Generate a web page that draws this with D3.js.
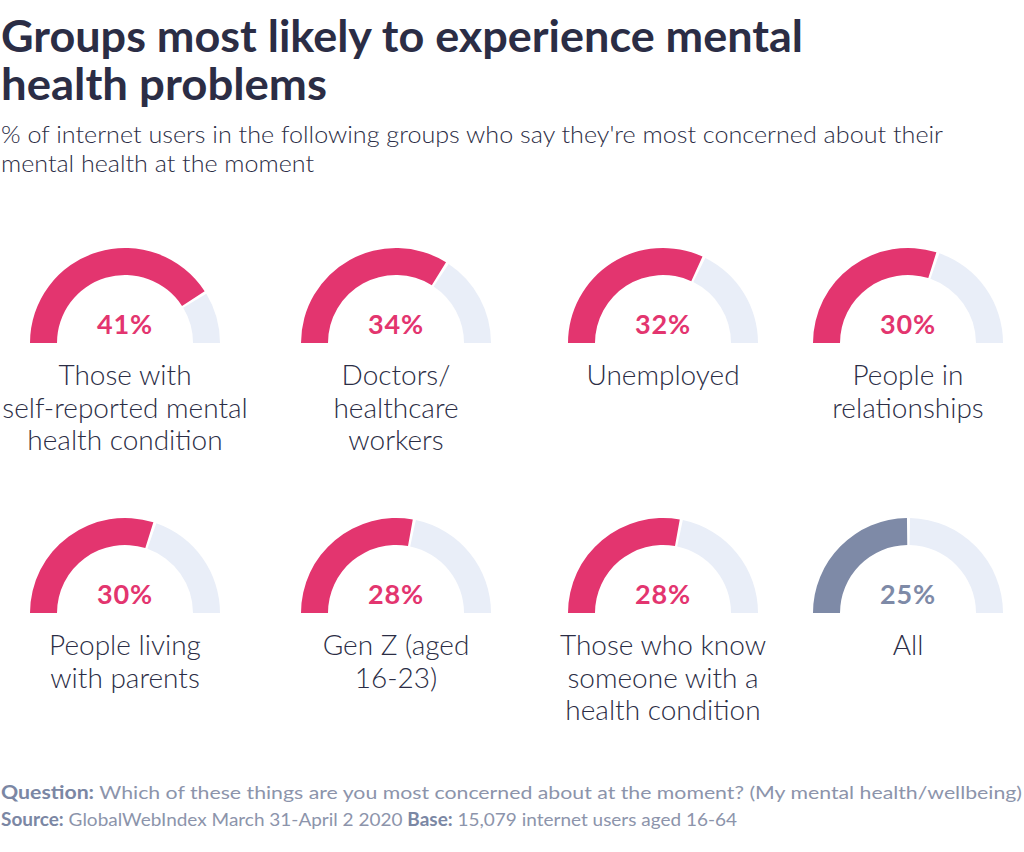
<!DOCTYPE html>
<html>
<head>
<meta charset="utf-8">
<script src="https://cdn.jsdelivr.net/npm/d3@7"></script>
<style>
  html, body { margin: 0; padding: 0; background: #ffffff; }
  svg { display: block; }
  text { font-family: Lato, "Noto Sans", sans-serif; }
</style>
</head>
<body>
<svg id="chart" width="1024" height="852"></svg>
<script>
// ---- data ----
const titleLines = ["Groups most likely to experience mental", "health problems"];
const subtitleLines = ["% of internet users in the following groups who say they're most concerned about their",
                       "mental health at the moment"];
const groupLabels = [
  ["Those with", "self-reported mental", "health condition"],
  ["Doctors/", "healthcare", "workers"],
  ["Unemployed"],
  ["People in", "relationships"],
  ["People living", "with parents"],
  ["Gen Z (aged", "16-23)"],
  ["Those who know", "someone with a", "health condition"],
  ["All"]
];
const values = [41, 34, 32, 30, 30, 28, 28, 25];
const kinds = ["group", "group", "group", "group", "group", "group", "group", "total"];
const gaugeMax = 50;
const footerQuestion = ["Question:", " Which of these things are you most concerned about at the moment? (My mental health/wellbeing)"];
const footerSource = ["Source:", " GlobalWebIndex March 31-April 2 2020 ", "Base:", " 15,079 internet users aged 16-64"];

// ---- style ----
const colors = { group: "#E3356F", total: "#7E8AA7", track: "#E9EEF8" };
const textDark = "#2B2D45";

const svg = d3.select("#chart");

// Title
const titleLens = [802, 326];
titleLines.forEach((t, i) => {
  svg.append("text")
    .attr("x", 1).attr("y", 52 + i * 48)
    .attr("font-size", 43).attr("font-weight", 700)
    .attr("fill", textDark)
    .attr("textLength", titleLens[i]).attr("lengthAdjust", "spacingAndGlyphs")
    .text(t);
});

// Subtitle
const subLens = [942, 313];
subtitleLines.forEach((t, i) => {
  svg.append("text")
    .attr("x", 1).attr("y", 143 + i * 29)
    .attr("font-size", 24).attr("font-weight", 300)
    .attr("fill", textDark)
    .attr("textLength", subLens[i]).attr("lengthAdjust", "spacingAndGlyphs")
    .text(t);
});

// Gauges
const col = d3.scaleLinear().domain([0, 1, 2, 3]).range([125, 396, 663, 908]);
const row = d3.scalePoint().domain([0, 1]).range([343, 613]);
const angle = d3.scaleLinear().domain([0, gaugeMax]).range([-Math.PI / 2, Math.PI / 2]);
const outerR = 95, innerR = 68, gap = 0.022;
const arc = d3.arc().innerRadius(innerR).outerRadius(outerR);

const g = svg.selectAll("g.gauge")
  .data(values.map((v, i) => ({ v, i, kind: kinds[i], lines: groupLabels[i] })))
  .join("g")
  .attr("class", "gauge")
  .attr("transform", d => `translate(${col(d.i % 4)},${row(Math.floor(d.i / 4))})`);

g.append("path")
  .attr("fill", colors.track)
  .attr("d", d => arc({ startAngle: angle(d.v) + gap, endAngle: angle(gaugeMax) }));

g.append("path")
  .attr("fill", d => colors[d.kind])
  .attr("d", d => arc({ startAngle: angle(0), endAngle: angle(d.v) - gap / 2 }));

g.append("text")
  .attr("text-anchor", "middle")
  .attr("y", -9)
  .attr("font-size", 27).attr("font-weight", 700)
  .attr("letter-spacing", 0.8)
  .attr("fill", d => colors[d.kind])
  .text(d => d.v + "%");

g.each(function (d) {
  const sel = d3.select(this);
  d.lines.forEach((line, j) => {
    sel.append("text")
      .attr("text-anchor", "middle")
      .attr("y", 42 + j * 32.5)
      .attr("font-size", 28).attr("font-weight", 300)
      .attr("fill", textDark)
      .text(line);
  });
});

// Footer
function footerLine(parts, y, len) {
  const t = svg.append("text").attr("x", 1).attr("y", y).attr("font-size", 18);
  parts.forEach((p) => {
    const bold = p.trim().endsWith(":");
    t.append("tspan")
      .attr("font-weight", bold ? 700 : 400)
      .attr("fill", bold ? "#7B87A4" : "#8C94AB")
      .text(p);
  });
  if (len) t.attr("textLength", len).attr("lengthAdjust", "spacingAndGlyphs");
}
footerLine(footerQuestion, 799, 1021);
footerLine(footerSource, 826, 736);
</script>
</body>
</html>
